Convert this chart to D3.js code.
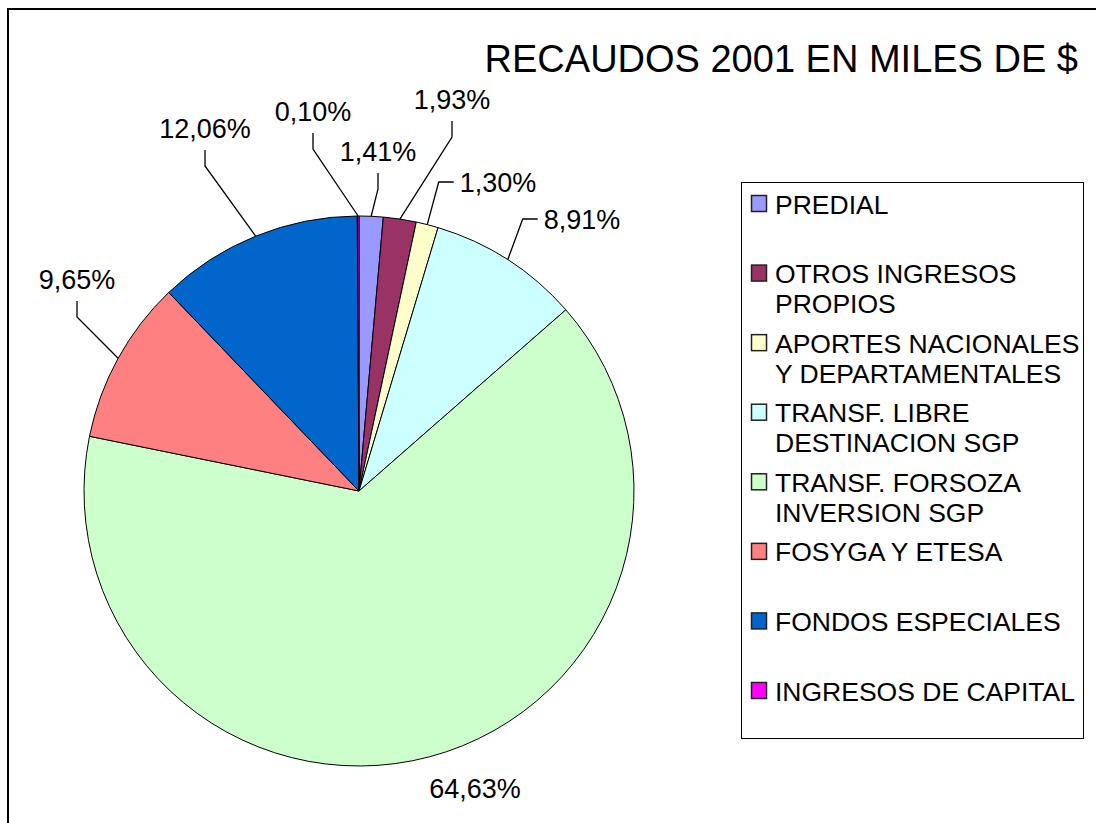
<!DOCTYPE html>
<html>
<head>
<meta charset="utf-8">
<script src="https://cdn.jsdelivr.net/npm/d3@7"></script>
<style>
  body { margin: 0; background: #fff; }
  svg { display: block; font-family: "Liberation Sans", Arial, sans-serif; }
</style>
</head>
<body>
<div id="chart"></div>
<script>
// data
const categories = ["PREDIAL", "OTROS INGRESOS PROPIOS", "APORTES NACIONALES Y DEPARTAMENTALES",
	"TRANSF. LIBRE DESTINACION SGP", "TRANSF. FORSOZA INVERSION SGP", "FOSYGA Y ETESA",
	"FONDOS ESPECIALES", "INGRESOS DE CAPITAL"];
const legendLines = [["PREDIAL"], ["OTROS INGRESOS", "PROPIOS"], ["APORTES NACIONALES", "Y DEPARTAMENTALES"],
	["TRANSF. LIBRE", "DESTINACION SGP"], ["TRANSF. FORSOZA", "INVERSION SGP"], ["FOSYGA Y ETESA"],
	["FONDOS ESPECIALES"], ["INGRESOS DE CAPITAL"]];
const shares = [1.41, 1.93, 1.30, 8.91, 64.63, 9.65, 12.06, 0.10];
const colors = ["#9999FF", "#993366", "#FFFFCC", "#CCFFFF", "#CCFFCC", "#FF8080", "#0066CC", "#FF00FF"];
const title = "RECAUDOS 2001 EN MILES DE $";

// label placement (text centre + leader style)
const labelPos = [[378, 151, "below"], [452, 99, "below"], [498, 182, "left"], [582, 219, "left"],
	[475, 788, "none"], [77, 279, "below"], [205, 128, "below"], [313, 111, "below"]];

const width = 1096, height = 823;
const cx = 359, cy = 491, radius = 275;

const svg = d3.select("#chart").append("svg")
	.attr("width", width)
	.attr("height", height);

// outer frame (runs off the page on right and bottom)
svg.append("rect")
	.attr("x", 8).attr("y", 9)
	.attr("width", 1200).attr("height", 1000)
	.style("fill", "none")
	.style("stroke", "#000")
	.style("stroke-width", 2);

svg.append("text")
	.attr("x", 1078).attr("y", 58)
	.attr("dy", "0.36em")
	.attr("text-anchor", "end")
	.style("font-size", "38px")
	.text(title);

const pie = d3.pie().sort(null).value(d => d)(shares);
const arc = d3.arc().innerRadius(0).outerRadius(radius);

const g = svg.append("g").attr("transform", `translate(${cx},${cy})`);

g.selectAll("path")
	.data(pie)
	.enter()
	.append("path")
	.attr("d", arc)
	.style("fill", (d, i) => colors[i])
	.style("stroke", "#000")
	.style("stroke-width", 1);

const fmt = v => v.toFixed(2).replace(".", ",") + "%";

// labels + leader lines
pie.forEach((d, i) => {
	const [lx, ly, kind] = labelPos[i];
	const mid = (d.startAngle + d.endAngle) / 2;
	const ex = cx + radius * Math.sin(mid), ey = cy - radius * Math.cos(mid);
	const txt = svg.append("text")
		.attr("x", lx).attr("y", ly)
		.attr("dy", "0.36em")
		.attr("text-anchor", "middle")
		.style("font-size", "27px")
		.text(fmt(shares[i]));
	let pts = null;
	if (kind == "below") {
		pts = [[lx, ly + 22], [lx, ly + 38], [ex, ey]];
	} else if (kind == "left") {
		const w = txt.node().getComputedTextLength();
		const x0 = lx - w / 2 - 6;
		pts = [[x0, ly], [x0 - 15, ly], [ex, ey]];
	}
	if (pts) {
		svg.append("path")
			.attr("d", d3.line()(pts))
			.style("fill", "none")
			.style("stroke", "#000")
			.style("stroke-width", 1.3);
	}
});

// legend
svg.append("rect")
	.attr("x", 741.5).attr("y", 182.5)
	.attr("width", 342).attr("height", 556)
	.style("fill", "#fff")
	.style("stroke", "#000")
	.style("stroke-width", 1);

const ly = d3.scaleLinear().domain([0, categories.length - 1]).range([204, 691]);

const items = svg.selectAll(".legend-item")
	.data(categories)
	.enter()
	.append("g")
	.classed("legend-item", true)
	.attr("transform", (d, i) => `translate(0,${ly(i)})`);

items.append("rect")
	.attr("x", 751.5).attr("y", -8.5)
	.attr("width", 15).attr("height", 16)
	.style("fill", (d, i) => colors[i])
	.style("stroke", "#222")
	.style("stroke-width", 1.5);

items.each(function(d, i){
	const t = d3.select(this).append("text")
		.style("font-size", "26.5px");
	legendLines[i].forEach((line, k) => {
		t.append("tspan")
			.attr("x", 775)
			.attr("y", k * 30)
			.attr("dy", "0.36em")
			.text(line);
	});
});
</script>
</body>
</html>
